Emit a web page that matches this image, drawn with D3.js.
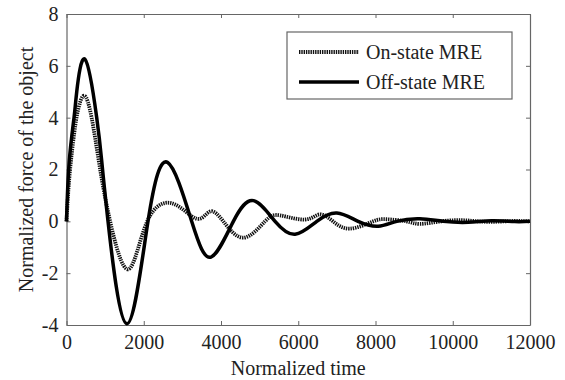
<!DOCTYPE html>
<meta charset="utf-8">
<script src="https://cdn.jsdelivr.net/npm/d3@7"></script>
<style>
body { margin: 0; background: #fff; }
text { font-family: "Liberation Serif", "Times New Roman", serif; fill: #222; }
</style>
<body>
<script>

// time samples (normalized time) and force values
var timeOff = [0, 70, 195, 265, 480, 780, 910, 1075, 1560, 2110, 2620, 3240, 3740, 4320, 4840, 5400, 5920, 6480, 7000, 7550, 8070, 8550, 9150, 9750, 10400, 11000, 11600, 12000];
var offVals = [0, 2.3, 4.0, 5.0, 6.25, 4.03, 2.35, 0, -3.95, 0, 2.27, 0, -1.38, 0, 0.8, 0, -0.5, 0, 0.32, 0, -0.19, 0, 0.1, 0, -0.04, 0.02, -0.01, 0];

var timeOn = [0, 80, 200, 300, 460, 650, 850, 1130, 1600, 2090, 2765, 3370, 3715, 4060, 4580, 5140, 5530, 6175, 6560, 6900, 7340, 7940, 8290, 8800, 9150, 9700, 10300, 10900, 11500, 12000];
var onVals = [0, 1.8, 3.4, 4.3, 4.85, 4.0, 2.2, 0, -1.85, 0, 0.68, 0.1, 0.38, 0, -0.63, 0, 0.23, 0.07, 0.27, 0, -0.28, 0, 0.08, 0, -0.1, 0, 0.04, -0.02, 0.01, 0];

var xTicks = [0, 2000, 4000, 6000, 8000, 10000, 12000];
var yTicks = [-4, -2, 0, 2, 4, 6, 8];
var seriesNames = ["On-state MRE", "Off-state MRE"];

var width = 565, height = 380;
var margin = {left: 66.5, right: 35, top: 14, bottom: 55};

var svg = d3.select("body").append("svg")
    .attr("width", width)
    .attr("height", height);

var x = d3.scaleLinear().domain([0, 12000]).range([margin.left, width - margin.right]);
var y = d3.scaleLinear().domain([-4, 8]).range([height - margin.bottom, margin.top]);

var off = timeOff.map(function(t, i) { return {t: t, v: offVals[i]}; });
var on = timeOn.map(function(t, i) { return {t: t, v: onVals[i]}; });

var line = d3.line()
    .x(function(d) { return x(d.t); })
    .y(function(d) { return y(d.v); })
    .curve(d3.curveNatural);

// plain labels, hyphen minus like the original
var fmt = function(d) { return String(d); };

// axes: ticks inside, box all round (matlab style)
var axisColor = "#666";
function styleAxis(g) {
  g.select(".domain").attr("stroke", axisColor).attr("stroke-width", 1.2);
  g.selectAll(".tick line").attr("stroke", axisColor);
  g.selectAll(".tick text").style("font-size", "20px").attr("fill", "#222");
}

svg.append("g")
    .attr("transform", "translate(0," + y(-4) + ")")
    .call(d3.axisBottom(x).tickValues(xTicks).tickFormat(fmt).tickSizeInner(-4).tickSizeOuter(0).tickPadding(10))
    .call(styleAxis);

svg.append("g")
    .attr("transform", "translate(0," + y(8) + ")")
    .call(d3.axisTop(x).tickValues(xTicks).tickSizeInner(-4).tickSizeOuter(0).tickFormat(""))
    .call(styleAxis);

svg.append("g")
    .attr("transform", "translate(" + x(0) + ",0)")
    .call(d3.axisLeft(y).tickValues(yTicks).tickFormat(fmt).tickSizeInner(-4).tickSizeOuter(0).tickPadding(8))
    .call(styleAxis);

svg.append("g")
    .attr("transform", "translate(" + x(12000) + ",0)")
    .call(d3.axisRight(y).tickValues(yTicks).tickSizeInner(-4).tickSizeOuter(0).tickFormat(""))
    .call(styleAxis);

// curves
svg.append("path")
    .datum(on)
    .attr("fill", "none")
    .attr("stroke", "#111")
    .attr("stroke-width", 3.8)
    .attr("stroke-dasharray", "1.4,0.9")
    .attr("d", line);

svg.append("path")
    .datum(off)
    .attr("fill", "none")
    .attr("stroke", "#000")
    .attr("stroke-width", 3.5)
    .attr("d", line);

// axis titles
svg.append("text")
    .attr("x", (x(0) + x(12000)) / 2)
    .attr("y", 375)
    .attr("text-anchor", "middle")
    .style("font-size", "20px")
    .text("Normalized time");

svg.append("text")
    .attr("transform", "translate(33," + ((y(8) + y(-4)) / 2) + ") rotate(-90)")
    .attr("text-anchor", "middle")
    .style("font-size", "20px")
    .text("Normalized force of the object");

// legend
var legend = svg.append("g");
legend.append("rect")
    .attr("x", 287).attr("y", 32)
    .attr("width", 225).attr("height", 67)
    .attr("fill", "#fff")
    .attr("stroke", axisColor)
    .attr("stroke-width", 1.2);

seriesNames.forEach(function(name, i) {
  var ly = 52 + i * 30;
  legend.append("line")
      .attr("x1", 299).attr("x2", 359)
      .attr("y1", ly).attr("y2", ly)
      .attr("stroke", i == 0 ? "#111" : "#000")
      .attr("stroke-width", i == 0 ? 3.8 : 3.5)
      .attr("stroke-dasharray", i == 0 ? "1.4,0.9" : null);
  legend.append("text")
      .attr("x", 366).attr("y", ly + 7)
      .style("font-size", "20px")
      .text(name);
});

</script>
</body>
